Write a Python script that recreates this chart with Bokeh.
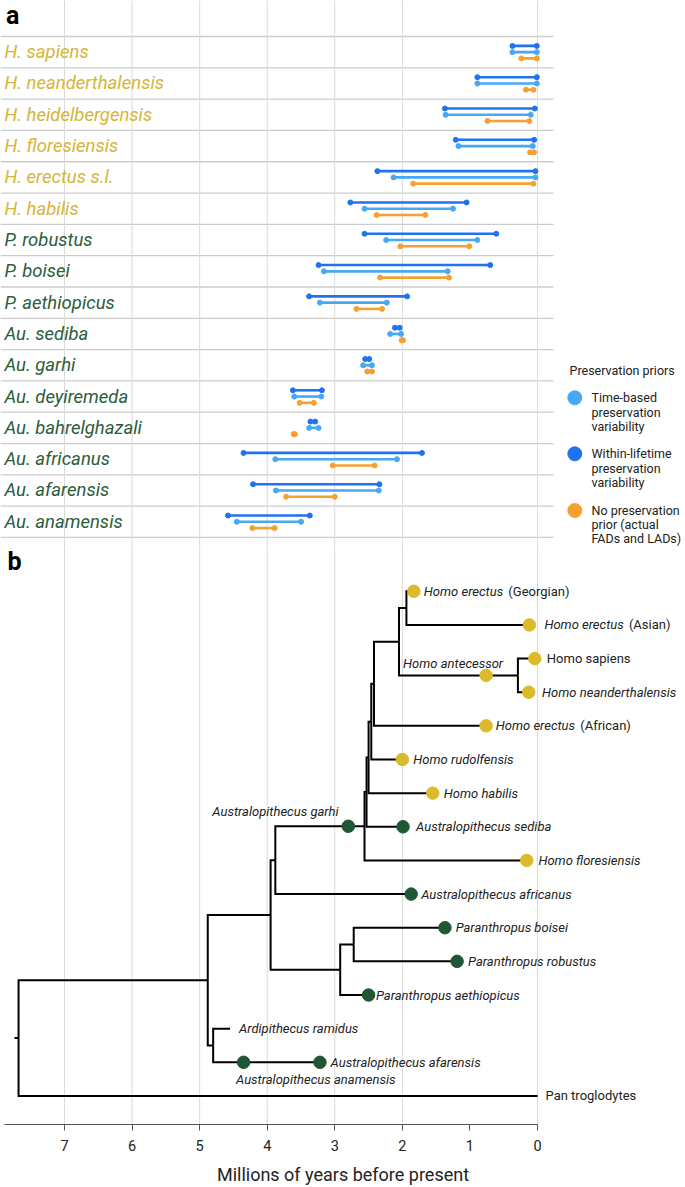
from bokeh.plotting import figure
from bokeh.layouts import column
from bokeh.models import Range1d, Span, FixedTicker, ColumnDataSource
from bokeh.core.properties import value
from bokeh.embed import file_html
from bokeh.resources import INLINE

# ======================= DATA: panel a =======================
species = ["H. sapiens", "H. neanderthalensis", "H. heidelbergensis", "H. floresiensis",
           "H. erectus s.l.", "H. habilis", "P. robustus", "P. boisei", "P. aethiopicus",
           "Au. sediba", "Au. garhi", "Au. deyiremeda", "Au. bahrelghazali",
           "Au. africanus", "Au. afarensis", "Au. anamensis"]
species_group = ["Homo"] * 6 + ["Other"] * 10

# within-lifetime preservation variability (oldest, youngest), Ma
within_fad = [0.37, 0.89, 1.37, 1.21, 2.37, 2.77, 2.56, 3.24, 3.38, 2.11, 2.55, 3.62, 3.36, 4.35, 4.21, 4.58]
within_lad = [0.01, 0.01, 0.04, 0.05, 0.03, 1.05, 0.61, 0.70, 1.93, 2.04, 2.49, 3.19, 3.29, 1.71, 2.34, 3.37]
# time-based preservation variability
time_fad = [0.37, 0.89, 1.36, 1.17, 2.13, 2.56, 2.24, 3.16, 3.22, 2.18, 2.58, 3.60, 3.38, 3.88, 3.87, 4.45]
time_lad = [0.01, 0.01, 0.10, 0.07, 0.03, 1.25, 0.89, 1.33, 2.23, 2.02, 2.45, 3.20, 3.24, 2.08, 2.35, 3.50]
# no preservation prior (actual FADs and LADs)
obs_fad = [0.24, 0.17, 0.74, 0.11, 1.84, 2.38, 2.03, 2.33, 2.68, 2.01, 2.52, 3.52, 3.61, 3.03, 3.72, 4.22]
obs_lad = [0.01, 0.06, 0.12, 0.05, 0.06, 1.66, 1.01, 1.31, 2.30, 1.99, 2.45, 3.31, 3.59, 2.41, 3.00, 3.89]

legend_title = "Preservation priors"
legend_labels = [["Time-based", "preservation", "variability"],
                 ["Within-lifetime", "preservation", "variability"],
                 ["No preservation", "prior (actual", "FADs and LADs)"]]

# ======================= DATA: panel b =======================
tip_keys = ["erG", "erA", "sap", "nea", "erAf", "rud", "hab", "sed", "flo",
            "afr", "boi", "rob", "aet", "ram", "afa", "pan"]
tip_ages = [1.83, 0.12, 0.04, 0.13, 0.76, 2.00, 1.55, 1.99, 0.16,
            1.87, 1.37, 1.19, 2.50, 4.55, 3.22, 0.0]
tip_italic = ["Homo erectus", "Homo erectus", "", "Homo neanderthalensis", "Homo erectus",
              "Homo rudolfensis", "Homo habilis", "Australopithecus sediba", "Homo floresiensis",
              "Australopithecus africanus", "Paranthropus boisei", "Paranthropus robustus",
              "Paranthropus aethiopicus", "Ardipithecus ramidus", "Australopithecus afarensis", ""]
tip_plain = ["(Georgian)", "(Asian)", "Homo sapiens", "", "(African)", "", "", "", "",
             "", "", "", "", "", "", "Pan troglodytes"]
tip_group = ["Homo", "Homo", "Homo", "Homo", "Homo", "Homo", "Homo", "Other", "Homo",
             "Other", "Other", "Other", "Other", None, "Other", None]

node_ages = {"nG": 1.94, "nSN": 0.29, "nE": 2.05, "nF": 2.42, "nR": 2.46, "nHb": 2.50,
             "nN2": 2.53, "nN1": 2.56, "nA": 3.88, "nP2": 2.72, "nP": 2.92,
             "nMain": 3.95, "nAR": 4.80, "nH": 4.88, "root": 7.68}
node_children = {"nG": ["erG", "erA"], "nSN": ["sap", "nea"], "nE": ["nG", "nSN"],
                 "nF": ["nE", "erAf"], "nR": ["nF", "rud"], "nHb": ["nR", "hab"],
                 "nN2": ["nHb", "sed"], "nN1": ["nN2", "flo"], "nA": ["nN1", "afr"],
                 "nP2": ["boi", "rob"], "nP": ["nP2", "aet"], "nMain": ["nA", "nP"],
                 "nAR": ["ram", "afa"], "nH": ["nMain", "nAR"], "root": ["nH", "pan"]}
root_edge_start = 7.74

ancestor_names = ["Homo antecessor", "Australopithecus garhi", "Australopithecus anamensis"]
ancestor_ages = [0.76, 2.80, 4.35]
ancestor_on = ["nSN", "nN1", "afa"]
ancestor_group = ["Homo", "Other", "Other"]

axis_ticks = [0, 1, 2, 3, 4, 5, 6, 7]
grid_ticks = [0, 2, 3, 4, 5, 6, 7]
axis_title = "Millions of years before present"

# ======================= STYLE / LAYOUT =======================
FONT = value("Roboto")
C_WITHIN = "#2172f0"
C_TIME = "#45a9f6"
C_OBS = "#f7a031"
C_GOLD = "#dbba2b"
C_GREEN = "#1f5634"
C_LABEL_GOLD = "#d6b537"
C_LABEL_GREEN = "#2b5d3b"
C_GRID = "#dadada"
C_SEP = "#cccccc"
C_TEXT = "#222222"

PX0, PX_PER_MA = 537.0, 67.57
def ma_at(px):
    return (PX0 - px) / PX_PER_MA

W = 685
SPLIT = 548
HA, HB = SPLIT, 1187 - SPLIT
xr = (ma_at(0), ma_at(W))

ROW_A, ROW_A_TOP = 31.31, 36.0
def ya(py):
    return (py - ROW_A_TOP) / ROW_A

ROW_B, ROW_B_TOP = 33.82, 591.0
def yb(py):
    return (py - ROW_B_TOP) / ROW_B

def base_fig(height, y0, y1, axis):
    p = figure(width=W, height=height, output_backend="svg", toolbar_location=None,
               x_range=Range1d(xr[0], xr[1]), y_range=Range1d(y0, y1),
               x_axis_location="below" if axis else None, y_axis_location=None,
               min_border=0, min_border_left=0, min_border_right=0, min_border_top=0,
               min_border_bottom=0)
    p.outline_line_color = None
    p.background_fill_color = "white"
    p.border_fill_color = "white"
    p.xgrid.visible = False
    p.ygrid.visible = False
    for t in grid_ticks:
        p.add_layout(Span(location=t, dimension="height", line_color=C_GRID,
                          line_width=1, level="underlay"))
    return p

# ======================= PANEL A =======================
pa = base_fig(HA, ya(SPLIT), ya(0), False)

n = len(species)
pa.segment(x0=[ma_at(0)] * (n + 1), x1=[ma_at(553)] * (n + 1),
           y0=list(range(n + 1)), y1=list(range(n + 1)),
           line_color=C_SEP, line_width=1.3, level="underlay")

for fad, lad, col, off in [(within_fad, within_lad, C_WITHIN, -0.2),
                           (time_fad, time_lad, C_TIME, 0.0),
                           (obs_fad, obs_lad, C_OBS, 0.2)]:
    ys = [i + 0.5 + off for i in range(n)]
    pa.segment(x0=fad, x1=lad, y0=ys, y1=ys, line_color=col, line_width=2.6)
    pa.scatter(x=fad + lad, y=ys + ys, size=5, color=col)

lab_src = ColumnDataSource(dict(
    x=[ma_at(4)] * n, y=[i + 0.5 for i in range(n)], text=species,
    color=[C_LABEL_GOLD if g == "Homo" else C_LABEL_GREEN for g in species_group]))
pa.text(x="x", y="y", text="text", source=lab_src, text_color="color",
        text_font=FONT, text_font_style="italic", text_font_size="18.5px",
        text_baseline="middle", text_align="left")

pa.text(x=[ma_at(5.5)], y=[ya(15)], text=["a"], text_font=FONT, text_font_style="bold",
        text_font_size="25px", text_baseline="middle", text_color="black")

# legend
leg_cx = ma_at(574.3)
leg_tx = ma_at(591)
leg_rows = [ya(397.3), ya(453.3), ya(510)]
pa.text(x=[ma_at(569)], y=[ya(370)], text=[legend_title], text_font=FONT,
        text_font_size="12.5px", text_baseline="middle", text_color=C_TEXT)
pa.scatter(x=[leg_cx] * 3, y=leg_rows, size=14, color=[C_TIME, C_WITHIN, C_OBS])
lx, ly, lt, lo = [], [], [], []
for r, lines in zip(leg_rows, legend_labels):
    for k, s in enumerate(lines):
        lx.append(leg_tx); ly.append(r); lt.append(s); lo.append(k * 14.2)
pa.text(x=lx, y=ly, text=lt, y_offset=lo, text_font=FONT, text_font_size="12.5px",
        text_baseline="middle", text_color=C_TEXT)

# ======================= PANEL B =======================
pb = base_fig(HB, yb(1127), yb(SPLIT), True)

ypos = {k: i for i, k in enumerate(tip_keys)}
age = dict(zip(tip_keys, tip_ages))
age.update(node_ages)

def gety(nd):
    if nd not in ypos:
        ys = [gety(c) for c in node_children[nd]]
        ypos[nd] = sum(ys) / len(ys)
    return ypos[nd]

gety("root")
xs, ysl = [], []
for nd, ch in node_children.items():
    for c in ch:
        xs.append([age[nd], age[nd], age[c]])
        ysl.append([ypos[nd], ypos[c], ypos[c]])
xs.append([root_edge_start, age["root"]])
ysl.append([ypos["root"], ypos["root"]])
pb.multi_line(xs=xs, ys=ysl, line_color="black", line_width=2, line_join="miter",
              line_cap="butt")

# dots
dx_, dy_, dc_ = [], [], []
for k, a, g in zip(tip_keys, tip_ages, tip_group):
    if g is not None:
        dx_.append(a); dy_.append(ypos[k]); dc_.append(C_GOLD if g == "Homo" else C_GREEN)
for a, on, g in zip(ancestor_ages, ancestor_on, ancestor_group):
    dx_.append(a); dy_.append(ypos[on]); dc_.append(C_GOLD if g == "Homo" else C_GREEN)
pb.scatter(x=dx_, y=dy_, size=12.5, color=dc_)

# tip labels
label_dx = [10, 15, 12, 13.4, 9.6, 11, 11, 13, 11.7, 10, 10.7, 11, 7.4, 9, 10.7, 8]
suffix_gap = 84.5
tx = tip_ages
ty = [ypos[k] for k in tip_keys]
pb.text(x=tx, y=ty, text=tip_italic, x_offset=label_dx, text_font=FONT,
        text_font_style="italic", text_font_size="13px", text_baseline="middle",
        text_color=C_TEXT)
plain_off = [d + (suffix_gap if it else 0) for d, it in zip(label_dx, tip_italic)]
pb.text(x=tx, y=ty, text=tip_plain, x_offset=plain_off, text_font=FONT,
        text_font_size="13px", text_baseline="middle", text_color=C_TEXT)

# sampled-ancestor labels
anc_y = [ypos[o] for o in ancestor_on]
pb.text(x=ancestor_ages, y=anc_y, text=ancestor_names,
        x_offset=[17, -9.7, -7.6], y_offset=[-12, -15, 17],
        text_align=["right", "right", "left"], text_font=FONT, text_font_style="italic",
        text_font_size="13px", text_baseline="middle", text_color=C_TEXT)

pb.text(x=[ma_at(7)], y=[yb(561)], text=["b"], text_font=FONT, text_font_style="bold",
        text_font_size="25px", text_baseline="middle", text_color="black")

ax = pb.xaxis[0]
ax.ticker = FixedTicker(ticks=axis_ticks)
ax.bounds = (0, ma_at(4.4))
ax.axis_label = axis_title
ax.axis_label_text_font = "Roboto"
ax.axis_label_text_font_style = "normal"
ax.axis_label_text_font_size = "18px"
ax.axis_label_text_color = C_TEXT
ax.axis_label_standoff = 10
ax.major_label_text_font = "Roboto"
ax.major_label_text_font_size = "14.5px"
ax.major_label_text_color = C_TEXT
ax.major_label_standoff = 9
ax.major_tick_in = 0
ax.major_tick_out = 6
ax.major_tick_line_color = "#555555"
ax.minor_tick_line_color = None
ax.axis_line_color = "#555555"
ax.axis_line_width = 1.2

layout = column(pa, pb, spacing=0)
open("out.html", "w").write(file_html(layout, INLINE))
